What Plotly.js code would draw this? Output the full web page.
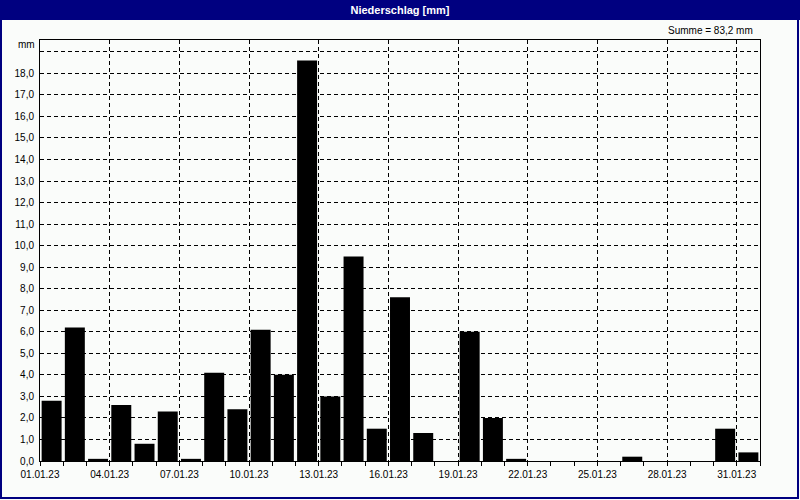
<!DOCTYPE html>
<html>
<head>
<meta charset="utf-8">
<script src="https://cdn.plot.ly/plotly-3.0.1.min.js"></script>
<style>
html,body{margin:0;padding:0;background:#fafcfa;}
#chart{width:800px;height:500px;}
</style>
</head>
<body>
<div id="chart"></div>
<script>
// Daily precipitation January 2023 (mm)
const days = [1,2,3,4,5,6,7,8,9,10,11,12,13,14,15,16,17,18,19,20,21,22,23,24,25,26,27,28,29,30,31];
const precipitation = [2.8,6.2,0.1,2.6,0.8,2.3,0.1,4.1,2.4,6.1,4.0,18.6,3.0,9.5,1.5,7.6,1.3,0,6.0,2.0,0.1,0,0,0,0,0.2,0,0,0,1.5,0.4];
const xTickVals = [0,3,6,9,12,15,18,21,24,27,30];
const xTickText = ["01.01.23","04.01.23","07.01.23","10.01.23","13.01.23","16.01.23","19.01.23","22.01.23","25.01.23","28.01.23","31.01.23"];
const yTickVals = [0,1,2,3,4,5,6,7,8,9,10,11,12,13,14,15,16,17,18,19];
const yTickText = ["0,0","1,0","2,0","3,0","4,0","5,0","6,0","7,0","8,0","9,0","10,0","11,0","12,0","13,0","14,0","15,0","16,0","17,0","18,0",""];
const titleText = "Niederschlag [mm]";
const unitLabel = "mm";

const total = precipitation.reduce((a,b)=>a+b,0);
const sumText = "Summe = " + total.toFixed(1).replace(".", ",") + " mm";

// bars centred in the middle of each day
const xPos = days.map(d => d - 0.5);

// pixel -> paper helpers (plot area: x 40..760, y 40..461)
const L=40, R=760, T=40, B=461;
const px = v => (v - L) / (R - L);
const py = v => (B - v) / (B - T);

const fontFam = "Liberation Sans, Arial, sans-serif";

const trace = {
  type: "bar",
  x: xPos,
  y: precipitation,
  marker: {color: "#000000", line: {width: 0}},
  hoverinfo: "skip"
};

const layout = {
  width: 800,
  height: 500,
  margin: {l: L, r: 800 - R, t: T, b: 500 - B, pad: 0},
  paper_bgcolor: "#fafcfa",
  plot_bgcolor: "#fafcfa",
  bargap: 0.14,
  showlegend: false,
  font: {family: fontFam, size: 10, color: "#000000"},
  title: {
    text: "<b>" + titleText + "</b>",
    font: {family: fontFam, size: 11, color: "#ffffff"},
    x: 0.5, xanchor: "center",
    y: 1 - 10/500, yref: "container", yanchor: "middle"
  },
  xaxis: {
    range: [0, 31],
    tickmode: "array",
    tickvals: xTickVals,
    ticktext: xTickText,
    ticks: "outside",
    ticklen: 4,
    tickcolor: "#000000",
    tickwidth: 1,
    showline: true,
    linecolor: "#000000",
    linewidth: 1,
    mirror: true,
    showgrid: true,
    gridcolor: "#000000",
    gridwidth: 1,
    griddash: "4px,3px",
    zeroline: false,
    fixedrange: true,
    minor: {
      dtick: 1,
      tick0: 0,
      ticks: "outside",
      ticklen: 4,
      tickcolor: "#000000",
      showgrid: false
    },
    tickfont: {family: fontFam, size: 10, color: "#000000"}
  },
  yaxis: {
    range: [0, 19.55],
    tickmode: "array",
    tickvals: yTickVals,
    ticktext: yTickText,
    ticks: "",
    showline: true,
    linecolor: "#000000",
    linewidth: 1,
    mirror: true,
    showgrid: true,
    gridcolor: "#000000",
    gridwidth: 1,
    griddash: "4px,3px",
    zeroline: false,
    fixedrange: true,
    ticklabelstandoff: 3,
    tickfont: {family: fontFam, size: 10, color: "#000000"}
  },
  shapes: [
    {type: "rect", xref: "paper", yref: "paper", layer: "above",
     x0: px(0), x1: px(800), y0: py(20), y1: py(0),
     fillcolor: "#000080", line: {width: 0}},
    {type: "rect", xref: "paper", yref: "paper", layer: "above",
     x0: px(1), x1: px(798), y0: py(498), y1: py(1),
     fillcolor: "rgba(0,0,0,0)", line: {color: "#000080", width: 2}}
  ],
  annotations: [
    {text: sumText, xref: "paper", yref: "paper", x: px(755), y: py(31),
     xanchor: "right", yanchor: "middle", showarrow: false,
     font: {family: fontFam, size: 10, color: "#000000"}},
    {text: unitLabel, xref: "paper", yref: "paper", x: px(37), y: py(44),
     xanchor: "right", yanchor: "middle", showarrow: false,
     font: {family: fontFam, size: 10, color: "#000000"}}
  ]
};

Plotly.newPlot("chart", [trace], layout, {displayModeBar: false, staticPlot: true});
</script>
</body>
</html>
